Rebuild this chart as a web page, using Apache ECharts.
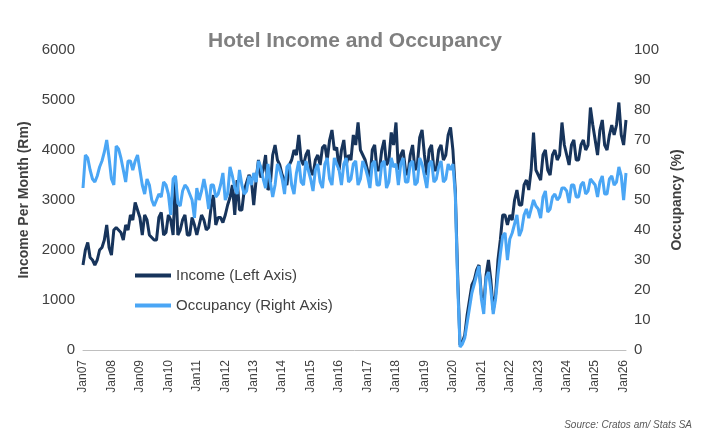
<!DOCTYPE html>
<html><head><meta charset="utf-8">
<script src="https://cdn.jsdelivr.net/npm/echarts@6/dist/echarts.min.js"></script>
<style>html,body{margin:0;padding:0;background:#fff}#c{width:710px;height:438px}</style>
</head><body><div id="c"></div>
<script>
const years = ['07','08','09','10','11','12','13','14','15','16','17','18','19','20','21','22','23','24','25','26'];
const months = ['Jan','Feb','Mar','Apr','May','Jun','Jul','Aug','Sep','Oct','Nov','Dec'];
const income = [
1700,2000,2150,1850,1800,1700,1800,2000,2050,2200,2500,2050,
1900,2400,2450,2400,2350,2200,2500,2400,2700,2600,2950,2800,
2650,2300,2700,2600,2300,2250,2200,2200,2650,2750,2300,2350,
2700,2600,2300,3450,2300,2400,2600,2700,2300,2300,2650,2500,
2300,2500,2700,2600,2400,2450,2850,3100,2500,2650,2650,2550,
2700,2900,3050,3300,2700,3400,2800,2800,3200,3350,3500,3400,
2900,3400,3800,3450,3600,3900,3200,3300,3900,4100,3800,3700,
3500,3400,3300,3700,3800,4000,3900,4300,3800,3700,3900,4000,
3600,3500,3800,3900,3700,4050,4100,3800,4200,4400,4000,4050,
3600,4000,4200,3700,3900,3800,4300,4100,4550,4000,3900,3800,
3600,3400,4000,4100,3600,3600,4000,4200,3700,3800,4350,4100,
4550,3600,3900,4000,3600,3500,3900,4100,3600,3700,4250,4400,
3900,3500,4000,4100,3600,3600,4000,4100,3800,3900,4300,4450,
4000,3200,1500,100,150,300,700,1000,1300,1400,1600,1700,
1100,900,1500,1800,1400,800,1100,1800,2200,2700,2700,2500,
2700,2600,3000,3200,2900,2900,3300,3400,3200,3600,4350,3600,
3500,3400,3900,4000,3600,3500,3900,4000,3800,3900,4550,4100,
3900,3700,4100,4200,3800,3800,4100,4200,4000,4100,4850,4500,
4200,3900,4400,4600,4100,4000,4300,4500,4300,4500,4950,4300,
4100,4600];
const occupancy = [
54,65,64,60,57,56,58,61,63,66,70,64,
57,55,68,67,64,60,56,63,63,60,63,65,
60,55,52,57,55,50,48,50,52,51,56,55,
52,45,57,58,49,48,53,55,54,52,50,44,
54,50,53,57,53,47,55,55,51,52,55,59,
50,52,61,58,54,52,60,55,52,53,58,55,
59,56,63,61,57,54,62,56,51,55,62,60,
57,52,61,62,55,52,59,63,56,55,63,60,
57,53,60,62,56,54,62,64,57,55,64,62,
60,55,62,64,56,57,62,63,55,57,63,61,
58,54,62,63,55,55,62,63,54,56,64,61,
62,55,62,64,56,56,62,63,55,56,64,62,
58,54,62,63,56,57,61,63,56,57,62,60,
62,52,22,1,2,4,9,14,19,22,25,28,
17,12,24,26,20,12,17,25,32,38,39,30,
37,39,42,45,38,40,45,47,44,47,50,48,
47,44,51,53,46,47,51,52,50,51,54,54,
53,49,55,55,51,51,55,56,52,53,57,56,
55,51,56,58,52,52,57,58,55,56,61,58,
50,59];
const cats = [];
for (const y of years) for (const m of months) { if (cats.length < income.length) cats.push(m + y); }
const chart = echarts.init(document.getElementById('c'));
const txt = '#404040', font = 'Liberation Sans';
chart.setOption({
  animation: false,
  textStyle: {fontFamily: font},
  title: {text: 'Hotel Income and Occupancy', left: 'center', top: 26,
    textStyle: {fontSize: 21, fontWeight: 'bold', color: '#7f7f7f', fontFamily: font}},
  legend: {orient: 'vertical', left: 130, top: 263, itemGap: 15, itemWidth: 36, itemHeight: 4,
    icon: 'rect', textStyle: {fontSize: 15, color: txt},
    data: [{name: 'Income (Left Axis)', itemStyle:{color:'#17345b'}}, {name: 'Occupancy (Right Axis)', itemStyle:{color:'#4aa6f5'}}]},
  grid: {left: 83, right: 84, top: 50, bottom: 88},
  xAxis: {type: 'category', data: cats, boundaryGap: false,
    axisLine: {lineStyle: {color: '#bfbfbf'}}, axisTick: {show: false},
    axisLabel: {interval: 11, rotate: 90, color: txt, fontSize: 12, margin: 10}},
  yAxis: [
    {type: 'value', min: 0, max: 6000, interval: 1000, name: 'Income Per Month (Rm)',
     nameLocation: 'middle', nameGap: 50, nameTextStyle: {fontSize: 14, fontWeight: 'bold', color: txt},
     axisLabel: {fontSize: 15, color: txt, formatter: v => String(v)}, splitLine: {show: false}},
    {type: 'value', min: 0, max: 100, interval: 10, name: 'Occupancy (%)',
     nameLocation: 'middle', nameGap: 42, nameTextStyle: {fontSize: 14, fontWeight: 'bold', color: txt},
     axisLabel: {fontSize: 15, color: txt}, splitLine: {show: false}}
  ],
  series: [
    {name: 'Income (Left Axis)', type: 'line', data: income, yAxisIndex: 0, showSymbol: false,
     lineStyle: {width: 3, color: '#17345b'}, itemStyle: {color: '#17345b'}},
    {name: 'Occupancy (Right Axis)', type: 'line', data: occupancy, yAxisIndex: 1, showSymbol: false,
     lineStyle: {width: 3, color: '#4aa6f5'}, itemStyle: {color: '#4aa6f5'}}
  ],
  graphic: [{type: 'text', right: 18, bottom: 8,
    style: {text: 'Source: Cratos am/ Stats SA', fontSize: 10, fontStyle: 'italic', fill: '#595959', fontFamily: font}}]
});
</script></body></html>
